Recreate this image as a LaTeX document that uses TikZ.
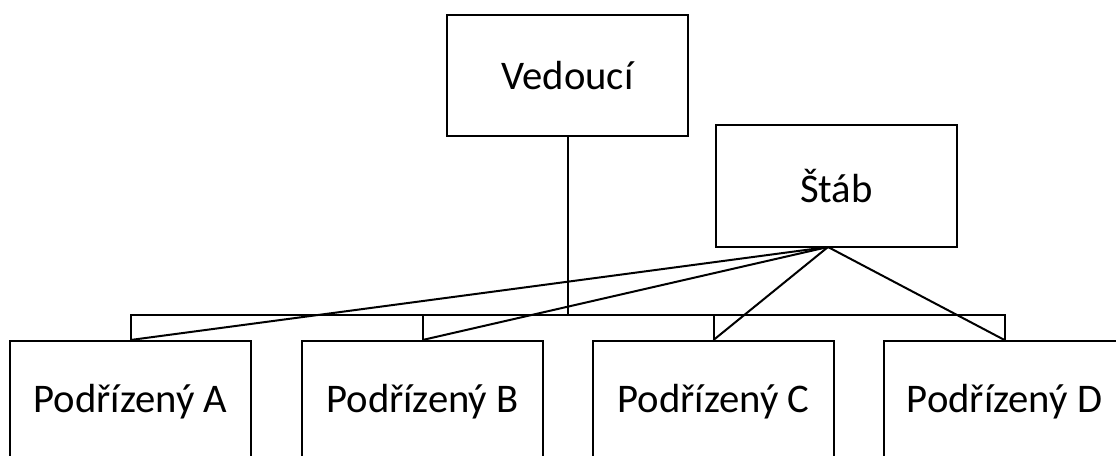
\documentclass[tikz,border=0pt]{standalone}
\usepackage{fontspec}
\setmainfont{Carlito}
\tikzset{
  orgbox/.style={draw,line width=1.5pt,minimum width=241*0.75pt,minimum height=121*0.75pt,inner sep=0pt,font=\fontsize{30.5}{36}\selectfont},
  link/.style={line width=1.5pt}
}
\begin{document}
\begin{tikzpicture}[x=0.75pt,y=-0.75pt]
    \clip (0,0) rectangle (1116,456);
    \fill[white] (0,0) rectangle (1116,456);

    \node[orgbox] (ved) at (567.5,75.5) {Vedoucí};
    \node[orgbox] (stab) at (836.5,186) {Štáb};

    \node[orgbox] (A) at (130.5,401.5) {Podřízený A};
    \node[orgbox] (B) at (422.5,401.5) {Podřízený B};
    \node[orgbox] (C) at (713.5,401.5) {Podřízený C};
    \node[orgbox] (D) at (1004.5,401.5) {Podřízený D};

    \coordinate (bar) at (567.5,315);
    \coordinate (apex) at (828,247);

    \draw[link] (ved) -- (bar);
    \draw[link] (A.north) |- (bar) -| (D.north);
    \draw[link] (B.north) |- (bar);
    \draw[link] (C.north) |- (bar);

    \foreach \n in {A,B,C,D}
      \draw[link] (apex) -- (\n.north);
\end{tikzpicture}
\end{document}
